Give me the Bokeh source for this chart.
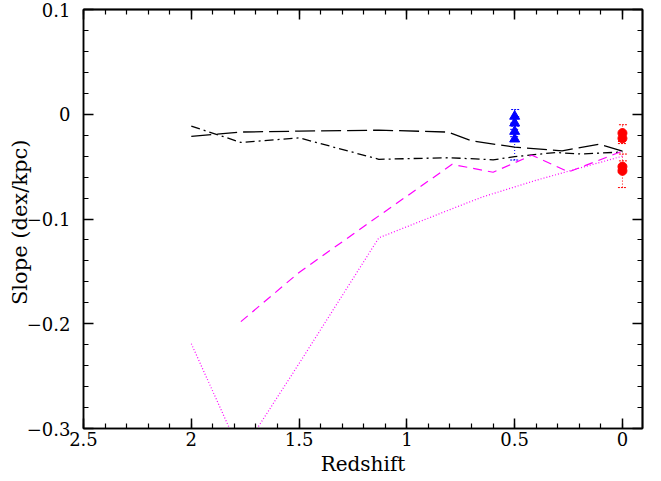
from bokeh.plotting import figure
from bokeh.models import Range1d, FixedTicker, LinearAxis, Whisker, TeeHead, ColumnDataSource
from bokeh.embed import file_html
from bokeh.resources import INLINE

# ---------------- data ----------------
x_ticks = [2.5, 2.0, 1.5, 1.0, 0.5, 0.0]
x_tick_labels = ["2.5", "2", "1.5", "1", "0.5", "0"]
x_minor = [0.0, 0.1, 0.2, 0.3, 0.4, 0.5, 0.6, 0.7, 0.8, 0.9, 1.0, 1.1, 1.2,
           1.3, 1.4, 1.5, 1.6, 1.7, 1.8, 1.9, 2.0, 2.1, 2.2, 2.3, 2.4, 2.5]
y_ticks = [-0.3, -0.2, -0.1, 0.0, 0.1]
y_tick_labels = ["\u22120.3", "\u22120.2", "\u22120.1", "0", "0.1"]
y_minor = [-0.3, -0.28, -0.26, -0.24, -0.22, -0.2, -0.18, -0.16, -0.14, -0.12,
           -0.1, -0.08, -0.06, -0.04, -0.02, 0.0, 0.02, 0.04, 0.06, 0.08, 0.1]

# black long-dashed model
ld_z = [2.0, 1.77, 1.5, 1.13, 0.81, 0.70, 0.5, 0.28, 0.107, 0.0]
ld_s = [-0.0211, -0.0170, -0.0161, -0.0152, -0.0170, -0.0254, -0.0314, -0.0350, -0.0285, -0.0352]

# black dash-dot model
dd_z = [2.0, 1.77, 1.5, 1.13, 0.8, 0.6, 0.5, 0.31, 0.19, 0.0]
dd_s = [-0.0113, -0.0269, -0.0225, -0.0430, -0.0415, -0.0435, -0.0405, -0.0365, -0.0380, -0.0360]

# magenta dashed model
md_z = [1.77, 1.5, 1.13, 0.79, 0.6, 0.42, 0.25, 0.0]
md_s = [-0.198, -0.151, -0.097, -0.0478, -0.0554, -0.0391, -0.0551, -0.0352]

# magenta dotted model
mt_z = [2.0, 1.77, 1.5, 1.13, 0.8, 0.65, 0.4, 0.0]
mt_s = [-0.219, -0.324, -0.238, -0.118, -0.091, -0.079, -0.063, -0.040]

# blue triangles (z ~ 0.5)
tri_z = [0.5, 0.5, 0.5, 0.5]
tri_s = [-0.0020, -0.0084, -0.0164, -0.0237]
tri_e = [0.0065, 0.0060, 0.0050, 0.0200]

# red circles (z = 0)
cir_z = [0.0, 0.0, 0.0, 0.0]
cir_s = [-0.0180, -0.0230, -0.0500, -0.0540]
cir_e = [0.0080, 0.0050, 0.0055, 0.0160]

FONT = "DejaVu Serif"

p = figure(width=645, height=478, output_backend="svg", toolbar_location=None,
           x_range=Range1d(2.5, -0.093), y_range=Range1d(-0.3, 0.1),
           min_border_left=83, min_border_right=3, min_border_top=9, min_border_bottom=50)
p.grid.visible = False
p.outline_line_color = "black"
p.outline_line_width = 1.5
p.background_fill_color = "white"
p.border_fill_color = "white"


def base_style(ax):
    ax.major_tick_out = 0
    ax.minor_tick_out = 0
    ax.major_tick_line_color = "black"
    ax.minor_tick_line_color = "black"
    ax.major_tick_line_width = 1.5
    ax.minor_tick_line_width = 1.2
    ax.axis_line_color = "black"
    ax.axis_line_width = 1.5


# labelled axes (bottom / left)
bx = p.xaxis[0]
bx.ticker = FixedTicker(ticks=x_ticks, minor_ticks=x_minor)
bx.major_label_overrides = {t: l for t, l in zip(x_ticks, x_tick_labels)}
ly = p.yaxis[0]
ly.ticker = FixedTicker(ticks=y_ticks, minor_ticks=y_minor)
ly.major_label_overrides = {t: l for t, l in zip(y_ticks, y_tick_labels)}
for ax in (bx, ly):
    base_style(ax)
    ax.major_tick_in = 10
    ax.minor_tick_in = 5
    ax.major_label_text_font = FONT
    ax.major_label_text_font_size = "18px"
    ax.major_label_text_color = "black"
    ax.axis_label_text_font = FONT
    ax.axis_label_text_font_style = "normal"
    ax.axis_label_text_color = "black"
bx.axis_label = "Redshift"
bx.axis_label_text_font_size = "20px"
bx.major_label_standoff = 3
bx.axis_label_standoff = 3
ly.axis_label = "Slope  (dex/kpc)"
ly.axis_label_text_font_size = "21px"
ly.major_label_standoff = 13
ly.axis_label_standoff = -8

# unlabelled tick-only axes on top and right (ticks given as minor ticks only)
for side, minors, length in (("above", x_minor, 5), ("above", x_ticks, 10),
                             ("right", y_minor, 5), ("right", y_ticks, 10)):
    ax = LinearAxis(ticker=FixedTicker(ticks=[], minor_ticks=minors))
    base_style(ax)
    ax.minor_tick_in = length
    ax.minor_tick_line_width = 1.5 if length == 10 else 1.2
    ax.major_tick_in = 0
    ax.major_label_standoff = 0
    ax.axis_label_standoff = 0
    p.add_layout(ax, side)

# model lines
p.line(ld_z, ld_s, line_color="black", line_width=1.3, line_dash="20 6")
p.line(dd_z, dd_s, line_color="black", line_width=1.3, line_dash="9 4 2 4")
p.line(md_z, md_s, line_color="#ff00ff", line_width=1.2, line_dash="9 6")
p.line(mt_z, mt_s, line_color="#ff00ff", line_width=1.2, line_dash="1 2")


# error bars
def add_err(zs, ss, es, color):
    src = ColumnDataSource(dict(x=zs,
                                lower=[s - e for s, e in zip(ss, es)],
                                upper=[s + e for s, e in zip(ss, es)]))
    w = Whisker(source=src, base="x", lower="lower", upper="upper", dimension="height",
                line_color=color, line_width=1, line_dash="1 2",
                upper_head=TeeHead(size=9, line_color=color, line_width=1, line_dash="2 1"),
                lower_head=TeeHead(size=9, line_color=color, line_width=1, line_dash="2 1"))
    p.add_layout(w)


add_err(tri_z, tri_s, tri_e, "blue")
add_err(cir_z, cir_s, cir_e, "red")

p.scatter(tri_z, tri_s, marker="triangle", size=10, fill_color="blue", line_color="blue")
p.scatter(cir_z, cir_s, marker="circle", size=9, fill_color="red", line_color="red")

open("out.html", "w").write(file_html(p, INLINE))
